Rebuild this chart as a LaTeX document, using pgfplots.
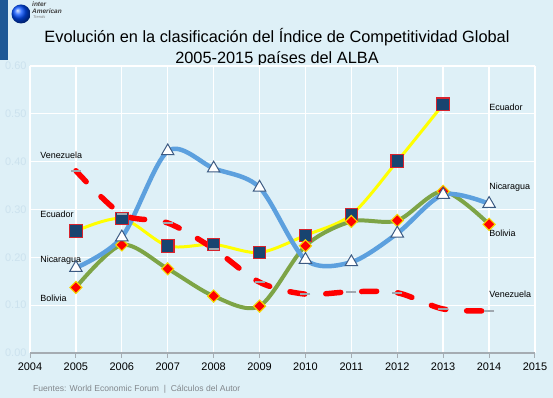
\documentclass[border=0pt]{standalone}
\usepackage{fontspec}
\setmainfont{Liberation Sans}
\usepackage{pgfplots}
\pgfplotsset{compat=1.18}
\definecolor{bg}{RGB}{222,240,247}
\definecolor{ylab}{RGB}{204,226,238}
\definecolor{barblue}{RGB}{29,88,150}
\definecolor{eculine}{RGB}{255,255,0}
\definecolor{ecufill}{RGB}{24,68,112}
\definecolor{ecuedge}{RGB}{215,35,45}
\definecolor{nicline}{RGB}{92,160,222}
\definecolor{nicedge}{RGB}{60,90,130}
\definecolor{bolline}{RGB}{125,164,70}
\definecolor{boledge}{RGB}{245,215,0}
\definecolor{venline}{RGB}{255,0,0}
\definecolor{venmark}{RGB}{160,168,176}
\definecolor{axgray}{RGB}{165,172,178}
\definecolor{footgray}{RGB}{130,135,140}
\begin{document}
\begin{tikzpicture}
\fill[bg] (0,0) rectangle (553bp,398bp);
\useasboundingbox (0,0) rectangle (553bp,398bp);
% left bar and logo
\fill[barblue] (0,338bp) rectangle (8bp,398bp);
\shade[ball color=blue!70!cyan] (21bp,384bp) circle (9.5bp);
\node[anchor=north west, inner sep=0pt, align=left, font=\fontsize{6.5}{6.8}\selectfont\bfseries\itshape, text=black!75] at (32bp,396bp) {inter\\American};
\node[anchor=north west, inner sep=0pt, font=\fontsize{4}{4.5}\selectfont\itshape, text=black!50] at (33bp,383bp) {Trends};
% title
\node[anchor=base, inner sep=0pt, font=\fontsize{16.4}{19}\selectfont] at (277bp,355bp) {Evolución en la clasificación del Índice de Competitividad Global};
\node[anchor=base, inner sep=0pt, font=\fontsize{16.4}{19}\selectfont] at (277bp,334bp) {2005-2015 países del ALBA};
% footer
\node[anchor=base west, inner sep=0pt, font=\fontsize{8.6}{10}\selectfont, text=footgray] at (33bp,7bp) {Fuentes: World Economic Forum \ |\ \ Cálculos del Autor};
\begin{axis}[
  at={(30bp,45bp)}, anchor=south west, scale only axis,
  width=505bp, height=287bp,
  xmin=2004, xmax=2015, ymin=0, ymax=0.6,
  xtick={2004,...,2015}, ytick={0,0.1,0.2,0.3,0.4,0.5,0.6},
  grid=major, grid style={white, line width=1.3pt},
  axis x line*=bottom, axis y line*=left,
  y axis line style={draw=none},
  x axis line style={axgray, line width=1.2pt},
  xtick align=outside, major tick length=5bp,
  xtick style={axgray, line width=1pt},
  ytick style={draw=none},
  /pgf/number format/assume math mode=true,
  xticklabel style={font=\fontsize{11}{12}\selectfont, text=black, /pgf/number format/1000 sep={}, yshift=-1bp},
  yticklabel style={font=\fontsize{11}{12}\selectfont, text=ylab, /pgf/number format/fixed, /pgf/number format/fixed zerofill, /pgf/number format/precision=2},
  clip=false,
]
% Ecuador
\addplot[eculine, line width=3pt, smooth, mark=square*, mark size=6.3pt,
  mark options={fill=ecufill, draw=ecuedge, line width=1.1pt, solid}]
  coordinates {(2005,0.255) (2006,0.281) (2007,0.224) (2008,0.227) (2009,0.210) (2010,0.246) (2011,0.289) (2012,0.401) (2013,0.520)};
% Bolivia
\addplot[bolline, line width=4pt, smooth, mark=square*, mark size=4.3pt,
  mark options={fill=red, draw=boledge, line width=1.1pt, rotate=45, solid}]
  coordinates {(2005,0.137) (2006,0.226) (2007,0.176) (2008,0.119) (2009,0.098) (2010,0.224) (2011,0.275) (2012,0.277) (2013,0.338) (2014,0.269)};
% Nicaragua
\addplot[nicline, line width=4.5pt, smooth, mark=triangle*, mark size=7.2pt,
  mark options={fill=white, draw=nicedge, line width=1pt, solid}]
  coordinates {(2005,0.178) (2006,0.242) (2007,0.422) (2008,0.386) (2009,0.346) (2010,0.195) (2011,0.190) (2012,0.250) (2013,0.331) (2014,0.312)};
% Venezuela
\addplot[only marks, mark=-, mark size=5pt, mark options={venmark, line width=1.6pt}]
  coordinates {(2005,0.381) (2006,0.290) (2007,0.272) (2008,0.218) (2009,0.148) (2010,0.123) (2011,0.128) (2012,0.126) (2013,0.092) (2014,0.088)};
\addplot[venline, line width=5.5pt, smooth, line cap=round, dash pattern=on 15bp off 21bp, no marks]
  coordinates {(2005,0.381) (2006,0.290) (2007,0.272) (2008,0.218) (2009,0.148) (2010,0.123) (2011,0.128) (2012,0.126) (2013,0.092) (2014,0.088)};
% labels
\begin{scope}[every node/.style={anchor=west, inner sep=0pt, font=\fontsize{9}{10}\selectfont}]
\node at (axis cs:2004.22,0.413) {Venezuela};
\node at (axis cs:2004.22,0.290) {Ecuador};
\node at (axis cs:2004.22,0.194) {Nicaragua};
\node at (axis cs:2004.22,0.115) {Bolivia};
\node at (axis cs:2014.0,0.514) {Ecuador};
\node at (axis cs:2014.0,0.346) {Nicaragua};
\node at (axis cs:2014.0,0.250) {Bolivia};
\node at (axis cs:2014.0,0.123) {Venezuela};
\end{scope}
\end{axis}
\end{tikzpicture}
\end{document}
